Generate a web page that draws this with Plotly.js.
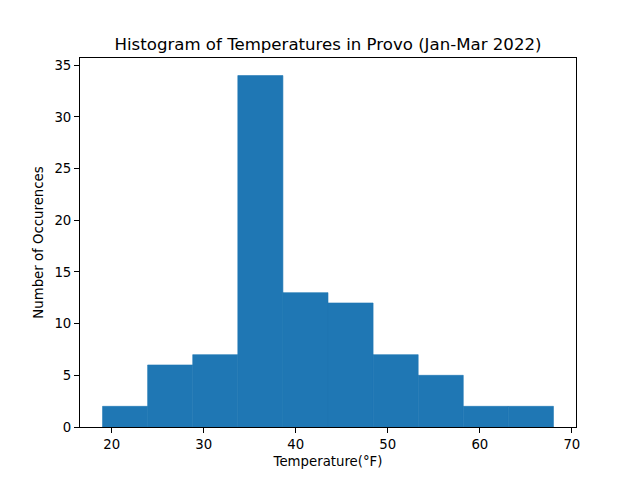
<!DOCTYPE html>
<html>
<head>
<meta charset="utf-8">
<script src="https://cdn.plot.ly/plotly-3.0.1.min.js"></script>
<style>html,body{margin:0;padding:0;background:#fff;}#plot{width:640px;height:480px;}</style>
</head>
<body>
<div id="plot"></div>
<script>
const binEdges = [19, 23.9, 28.8, 33.7, 38.6, 43.5, 48.4, 53.3, 58.2, 63.1, 68];
const counts = [2, 6, 7, 34, 13, 12, 7, 5, 2, 2];
const xTicks = [20, 30, 40, 50, 60, 70];
const yTicks = [0, 5, 10, 15, 20, 25, 30, 35];

const centers = counts.map((c, i) => (binEdges[i] + binEdges[i + 1]) / 2);
const widths = counts.map((c, i) => binEdges[i + 1] - binEdges[i]);
const lo = binEdges[0], hi = binEdges[binEdges.length - 1];
const pad = (hi - lo) * 0.05;
const ymax = Math.max(...counts) * 1.05;

const trace = {
  type: 'bar',
  x: centers,
  y: counts,
  width: widths,
  marker: {color: '#1f77b4', line: {width: 0.6, color: '#1f77b4'}},
  hoverinfo: 'x+y'
};

const axisCommon = {
  showgrid: false,
  zeroline: false,
  showline: true,
  mirror: true,
  linecolor: '#000',
  linewidth: 1,
  ticks: 'outside',
  ticklen: 5,
  tickwidth: 1,
  tickcolor: '#000',
  tickfont: {family: 'DejaVu Sans', size: 13.3, color: '#000'}
};

const layout = {
  width: 640,
  height: 480,
  margin: {l: 80, r: 64, t: 58, b: 53},
  paper_bgcolor: '#fff',
  plot_bgcolor: '#fff',
  showlegend: false,
  font: {family: 'DejaVu Sans', color: '#000'},
  title: {
    text: 'Histogram of Temperatures in Provo (Jan-Mar 2022)',
    font: {family: 'DejaVu Sans', size: 16.6, color: '#000'},
    x: 0.5, xref: 'paper', xanchor: 'center',
    y: 1, yref: 'paper', yanchor: 'bottom', pad: {b: 8}
  },
  xaxis: Object.assign({}, axisCommon, {
    range: [lo - pad, hi + pad],
    tickvals: xTicks,
    ticktext: xTicks.map(String),
    title: {text: 'Temperature(°F)', font: {family: 'DejaVu Sans', size: 13.3, color: '#000'}, standoff: 5}
  }),
  yaxis: Object.assign({}, axisCommon, {
    range: [0, ymax],
    tickvals: yTicks,
    ticktext: yTicks.map(String),
    title: {text: 'Number of Occurences', font: {family: 'DejaVu Sans', size: 13.3, color: '#000'}, standoff: 7}
  })
};

Plotly.newPlot('plot', [trace], layout, {displayModeBar: false, staticPlot: true});
</script>
</body>
</html>
